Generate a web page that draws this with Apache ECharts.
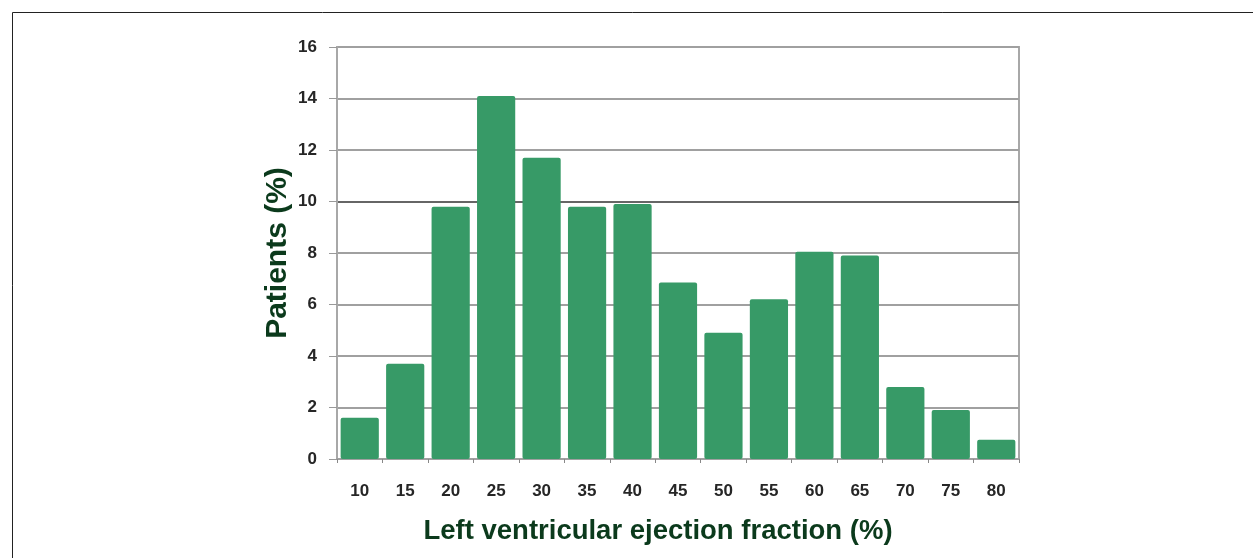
<!DOCTYPE html>
<html>
<head>
<meta charset="utf-8">
<script src="https://cdn.jsdelivr.net/npm/echarts@6/dist/echarts.min.js"></script>
<style>
    html, body { margin: 0; padding: 0; background: #fff; }
    #chart { width: 1253px; height: 558px; }
</style>
</head>
<body>
<div id="chart"></div>
<script>
// 左室射血分数分布
const categories = ["10", "15", "20", "25", "30", "35", "40", "45", "50", "55", "60", "65", "70", "75", "80"];
const patients = [1.6, 3.7, 9.8, 14.1, 11.7, 9.8, 9.9, 6.85, 4.9, 6.2, 8.05, 7.9, 2.8, 1.9, 0.75];
const yTicks = [0, 2, 4, 6, 8, 10, 12, 14, 16];

const chart = echarts.init(document.getElementById("chart"));

// 10 那条网格线颜色更深
const gridColors = yTicks.map(v => (v === 10 ? "#666" : "#a0a0a0"));

const option = {
    animation: false,
    textStyle: { fontFamily: "Liberation Sans, Arial, sans-serif" },
    graphic: [
        {
            type: "polyline",
            shape: { points: [[12.5, 558], [12.5, 12.5], [1253, 12.5]] },
            style: { stroke: "#222", lineWidth: 1, fill: null }
        }
    ],
    grid: {
        left: 337,
        right: 234,
        top: 47,
        bottom: 99,
        show: true,
        borderColor: "#a8a8a8",
        borderWidth: 2
    },
    xAxis: {
        type: "category",
        data: categories,
        name: "Left ventricular ejection fraction (%)",
        nameLocation: "middle",
        nameGap: 58,
        nameMoveOverlap: false,
        nameTextStyle: {
            fontSize: 27.5,
            fontWeight: "bold",
            color: "#0b3a1c",
            padding: [0, 40, 0, 0]
        },
        axisLine: { lineStyle: { color: "#a0a0a0", width: 2 } },
        axisTick: { show: true, length: 4, lineStyle: { color: "#888" } },
        axisLabel: { fontSize: 17, fontWeight: "bold", color: "#262626", margin: 24 }
    },
    yAxis: {
        type: "value",
        min: 0,
        max: 16,
        interval: 2,
        name: "Patients (%)",
        nameLocation: "middle",
        nameGap: 44,
        nameMoveOverlap: false,
        nameTextStyle: {
            fontSize: 30,
            fontWeight: "bold",
            color: "#0b3a1c"
        },
        axisLine: { show: true, lineStyle: { color: "#a8a8a8", width: 2 } },
        axisTick: { show: true, length: 8, lineStyle: { color: "#999" } },
        axisLabel: { fontSize: 17, fontWeight: "bold", color: "#262626", margin: 20 },
        splitLine: { lineStyle: { color: gridColors, width: 2 } }
    },
    series: [
        {
            type: "bar",
            data: patients,
            barCategoryGap: "16%",
            itemStyle: { color: "#379a67", borderRadius: 2 }
        }
    ]
};

chart.setOption(option);
</script>
</body>
</html>
